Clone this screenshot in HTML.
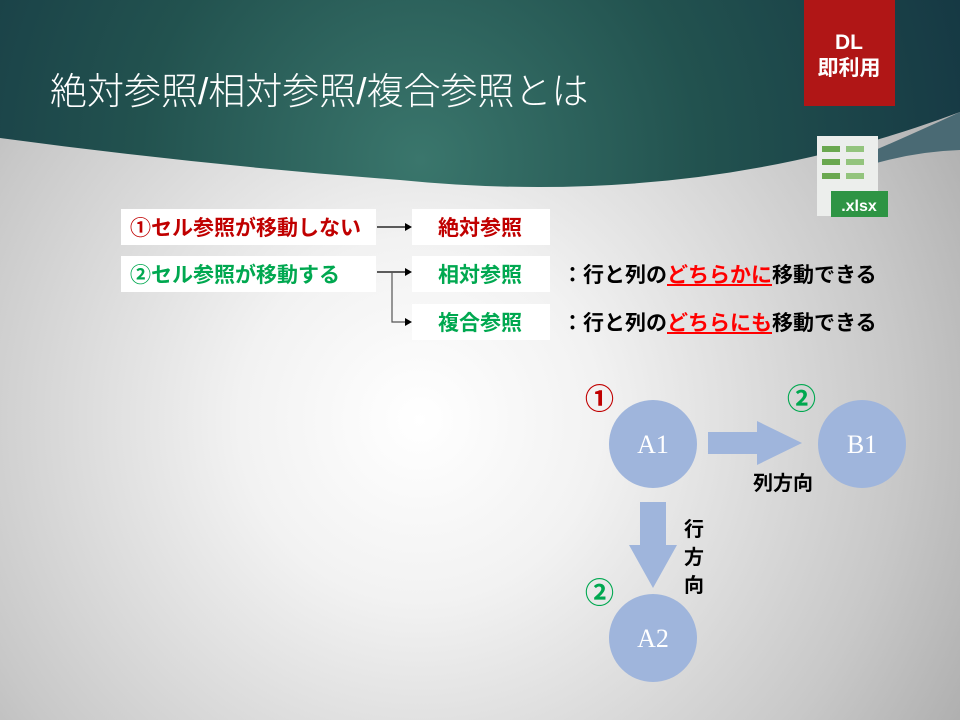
<!DOCTYPE html>
<html><head><meta charset="utf-8"><style>
html,body{margin:0;padding:0}
body{width:960px;height:720px;overflow:hidden;position:relative;font-family:"Liberation Sans","Noto Sans CJK JP",sans-serif;background:radial-gradient(circle at 420px 420px,#ffffff 0px,#f2f2f2 180px,#c8c8c8 480px,#aaaaaa 650px)}
.t{position:absolute;font-weight:bold;font-size:21px;white-space:nowrap}
.box{position:absolute;background:#fff}
.c{position:absolute;font-weight:bold;font-size:29px;white-space:nowrap;font-family:"Liberation Sans","Noto Sans CJK JP",sans-serif}
</style></head><body>
<svg width="960" height="720" style="position:absolute;left:0;top:0">
<defs>
<radialGradient id="hg" cx="420" cy="160" r="560" gradientUnits="userSpaceOnUse">
<stop offset="0" stop-color="#3a766c"/><stop offset="0.5" stop-color="#22524f"/><stop offset="1" stop-color="#163944"/>
</radialGradient>
</defs>
<path d="M840,175 Q900,152 960,150 V112 Q900,140 840,165 Z" fill="#4a6a74"/>
<path d="M0,0 H960 V112 Q700,210 400,180 Q200,165 0,138 Z" fill="url(#hg)"/>
<text x="50" y="104" font-family="Liberation Sans,Noto Sans CJK JP,sans-serif" font-size="37" font-weight="300" fill="#fff">絶対参照/相対参照/複合参照とは</text>
<rect x="804" y="0" width="91" height="106" fill="#b01616"/>
<text x="849" y="49" text-anchor="middle" font-size="21" font-weight="bold" fill="#fff" font-family="Liberation Sans,sans-serif">DL</text>
<text x="849" y="75" text-anchor="middle" font-size="21" font-weight="bold" fill="#fff" font-family="Noto Sans CJK JP,sans-serif">即利用</text>
<rect x="817" y="136" width="61" height="80" fill="#eceeec"/>
<g fill="#6aa84f"><rect x="822" y="146" width="18" height="6"/><rect x="822" y="159" width="18" height="6"/><rect x="822" y="173" width="18" height="6"/></g>
<g fill="#93c47d"><rect x="846" y="146" width="18" height="6"/><rect x="846" y="159" width="18" height="6"/><rect x="846" y="173" width="18" height="6"/></g>
<rect x="831" y="191" width="57" height="26" fill="#2e9444"/>
<text x="859" y="211" text-anchor="middle" font-size="16" font-weight="bold" fill="#fff" font-family="Liberation Sans,sans-serif">.xlsx</text>
<g stroke="#000" stroke-width="1.2" fill="none">
<line x1="377" y1="227" x2="405" y2="227"/>
<line x1="377" y1="272" x2="405" y2="272"/>
<polyline points="392,272 392,322 405,322" stroke="#555"/>
</g>
<g fill="#000"><path d="M412,227 l-7,-4 v8z"/><path d="M412,272 l-7,-4 v8z"/><path d="M412,322 l-7,-4 v8z"/></g>
<g fill="#9fb5dc">
<circle cx="653" cy="444" r="44"/><circle cx="862" cy="444" r="44"/><circle cx="653" cy="638" r="44"/>
<path d="M708,432 H757 V421 L802,443 L757,465 V454 H708 Z"/>
<path d="M640,502 H666 V545 H677 L653,588 L629,545 H640 Z"/>
</g>
<g font-family="Liberation Serif,serif" font-size="26" fill="#fff" text-anchor="middle">
<text x="653" y="453">A1</text><text x="862" y="453">B1</text><text x="653" y="647">A2</text>
</g>
</svg>
<div class="box" style="left:121px;top:209px;width:255px;height:36px"></div>
<div class="box" style="left:412px;top:209px;width:138px;height:36px"></div>
<div class="box" style="left:121px;top:256px;width:255px;height:36px"></div>
<div class="box" style="left:412px;top:256px;width:138px;height:36px"></div>
<div class="box" style="left:412px;top:304px;width:138px;height:36px"></div>
<div class="t" style="left:130px;top:212px;color:#c00000">①セル参照が移動しない</div>
<div class="t" style="left:438px;top:212px;color:#c00000">絶対参照</div>
<div class="t" style="left:130px;top:259px;color:#00a850">②セル参照が移動する</div>
<div class="t" style="left:438px;top:259px;color:#00a850">相対参照</div>
<div class="t" style="left:438px;top:307px;color:#00a850">複合参照</div>
<div class="t" style="left:562px;top:259px;color:#000">：行と列の<span style="color:#f00;text-decoration:underline">どちらかに</span>移動できる</div>
<div class="t" style="left:562px;top:307px;color:#000">：行と列の<span style="color:#f00;text-decoration:underline">どちらにも</span>移動できる</div>
<div class="c" style="left:585px;top:376px;color:#c00000">①</div>
<div class="c" style="left:787px;top:376px;color:#00a850">②</div>
<div class="c" style="left:585px;top:570px;color:#00a850">②</div>
<div class="t" style="left:753px;top:467px;color:#000;font-size:20px">列方向</div>
<div class="t" style="left:684px;top:516px;color:#000;font-size:20px;line-height:28px;width:22px;white-space:normal">行<br>方<br>向</div>
</body></html>
